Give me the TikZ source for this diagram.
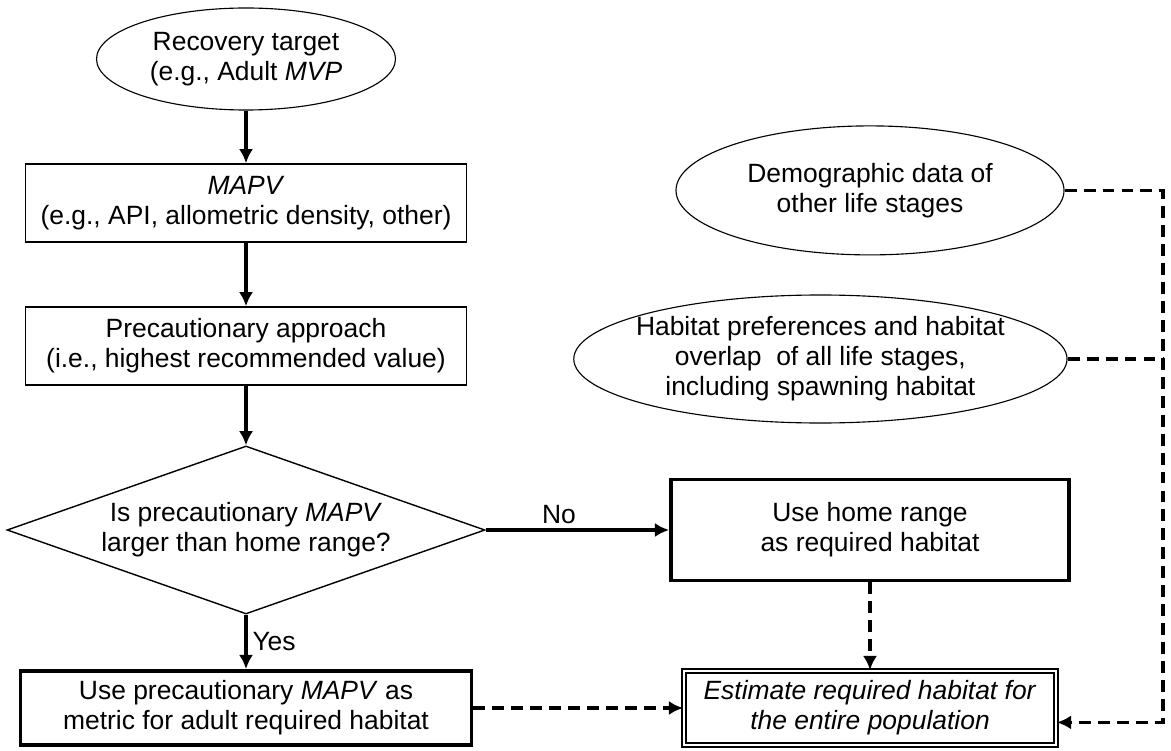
\documentclass[tikz,border=0pt]{standalone}
\usepackage{fontspec}
\setmainfont{Liberation Sans}
\usetikzlibrary{shapes.geometric,arrows.meta,positioning}

\tikzstyle{block} = [draw, rectangle, align=center, line width=1.1pt, minimum width=11.025cm, minimum height=1.95cm, inner sep=0pt]
\tikzstyle{thickblock} = [block, line width=2.8pt]
\tikzstyle{bubble} = [draw, ellipse, align=center, line width=0.8pt, inner sep=0pt]
\tikzstyle{question} = [draw, diamond, align=center, aspect=2.85, line width=1pt, minimum width=11.95cm, minimum height=4.2cm, inner sep=0pt]
\tikzstyle{arrowtext} = [text centered]
\tikzstyle{arrow} = [draw, -{Latex[length=10pt,width=10pt]}, line width=2.6pt]
\tikzstyle{dashline} = [draw, line width=2.6pt, dash pattern=on 8.5pt off 5pt]
\tikzstyle{dasharrow} = [dashline, -{Latex[length=10pt,width=10pt]}]

\begin{document}
\begin{tikzpicture}[node distance=3.6cm, font=\fontsize{18.8pt}{21.3pt}\selectfont]
	\useasboundingbox (0,0) rectangle (29.275,-18.775);

	\node [bubble, minimum width=7.475cm, minimum height=2.55cm] (recovery) at (6.15,-1.475) {Recovery target\\(e.g., Adult \textit{MVP}};
	\node [block, below of=recovery] (mapv) {\textit{MAPV}\\(e.g., API, allometric density, other)};
	\node [block, below of=mapv, node distance=3.575cm] (precaution) {Precautionary approach\\(i.e., highest recommended value)};
	\node [question, below of=precaution, node distance=4.6cm] (decision) {Is precautionary \textit{MAPV}\\ larger than home range?};
	\node [thickblock, below of=decision, node distance=4.45cm, minimum width=11.275cm, minimum height=1.85cm] (useprec) {Use precautionary \textit{MAPV} as\\metric for adult required habitat};
	\node [thickblock, right of=decision, node distance=15.6cm, minimum width=9.95cm, minimum height=2.525cm] (homerange) {Use home range\\as required habitat};
	\node [block, right of=useprec, node distance=15.6cm, double, double distance=2pt, line width=1.4pt, minimum width=9.3cm, minimum height=1.85cm] (estimate) {\textit{Estimate required habitat for}\\\textit{the entire population}};
	\node [bubble, above of=homerange, node distance=8.49cm, minimum width=9.7cm, minimum height=3.225cm] (demographic) {Demographic data of\\other life stages};
	\node [bubble, above of=homerange, node distance=4.275cm, xshift=-1.24cm, minimum width=11.975cm, minimum height=3.2cm, inner xsep=-0.25cm] (habitat) {Habitat preferences and habitat\\overlap~ of all life stages,\\including spawning habitat};
	\coordinate [right of=estimate, node distance=7.325cm, yshift=-0.36cm] (corner);

	% Main column
	\draw [arrow] (recovery.south) -- (mapv.north);
	\draw [arrow] (mapv.south) -- (precaution.north);
	\draw [arrow] (precaution.south) -- (decision.north);
	\draw [arrow] (decision.south) -- node[arrowtext, right] {Yes} (useprec.north);
	\draw [arrow] (decision.east) -- node[arrowtext, above, pos=0.4] {No} (homerange.west);

	% Towards the estimate
	\draw [dasharrow] (useprec.east) -- (estimate.west);
	\draw [dasharrow] (homerange.south) -- (estimate.north);
	\draw [dasharrow] (demographic.east) -| (corner) -- (corner -| estimate.east);
	\draw [dashline] (habitat.east) -- (habitat.east -| corner);
\end{tikzpicture}
\end{document}
